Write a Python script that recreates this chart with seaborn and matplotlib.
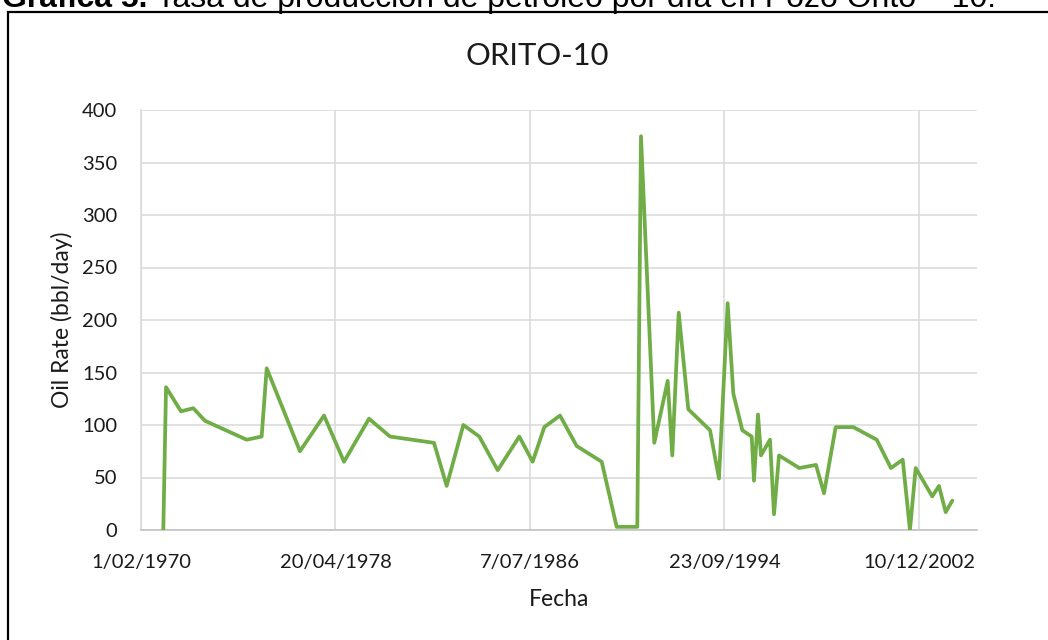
import matplotlib
matplotlib.use("Agg")
import matplotlib.pyplot as plt
from matplotlib.patches import Rectangle
import pandas as pd
import seaborn as sns

# Production history of well ORITO-10
fecha = [
    "1971-01-11", "1971-02-22", "1971-10-11", "1972-04-18", "1972-10-15",
    "1974-07-20", "1975-03-08", "1975-05-25", "1976-10-19", "1977-10-25",
    "1978-08-29", "1979-09-19", "1980-08-08", "1982-06-17", "1982-12-30",
    "1983-09-13", "1984-05-16", "1985-02-24", "1986-01-23", "1986-08-17",
    "1987-02-13", "1987-10-13", "1988-06-26", "1989-07-17", "1990-03-05",
    "1991-01-17", "1991-03-15", "1991-10-06", "1992-04-30", "1992-07-10",
    "1992-10-17", "1993-03-14", "1994-02-12", "1994-06-30", "1994-11-11",
    "1995-02-06", "1995-06-25", "1995-11-17", "1995-12-22", "1996-02-22",
    "1996-04-08", "1996-08-25", "1996-10-26", "1997-01-11", "1997-11-20",
    "1998-08-04", "1998-12-06", "1999-06-04", "2000-03-02", "2001-02-26",
    "2001-10-04", "2002-04-03", "2002-07-24", "2002-10-20", "2003-07-03",
    "2003-10-14", "2004-01-26", "2004-05-07",
]
oil_rate = [
    0, 136, 113, 116, 104,
    86, 89, 154, 75, 109,
    65, 106, 89, 83, 42,
    100, 89, 57, 89, 65,
    98, 109, 80, 65, 3,
    3, 375, 83, 142, 71,
    207, 115, 95, 49, 216,
    130, 95, 89, 47, 110,
    71, 86, 15, 71, 59,
    62, 35, 98, 98, 86,
    59, 67, 0, 59, 32,
    42, 17, 28,
]

y_ticks = [0, 50, 100, 150, 200, 250, 300, 350, 400]
x_tick_dates = ["1970-02-01", "1978-04-20", "1986-07-07", "1994-09-23", "2002-12-10"]
x_tick_labels = ["1/02/1970", "20/04/1978", "7/07/1986", "23/09/1994", "10/12/2002"]
x_range = ["1970-02-01", "2005-05-23"]

caption_bold = "Gráfica 5."
caption_rest = " Tasa de producción de petróleo por día en Pozo Orito – 10."

sns.set_theme(style="white")
plt.rcParams["font.family"] = ["Lato", "DejaVu Sans"]

W, H = 1048, 640
fig = plt.figure(figsize=(W / 100, H / 100), dpi=100)
fig.patch.set_facecolor("white")

ax = fig.add_axes([141 / W, 110 / H, 836 / W, 420 / H])

df = pd.DataFrame({"Fecha": pd.to_datetime(fecha), "Oil Rate (bbl/day)": oil_rate})
sns.lineplot(data=df, x="Fecha", y="Oil Rate (bbl/day)", ax=ax,
             color="#70AD47", linewidth=2.7, zorder=3)

ax.set_xlim(pd.Timestamp(x_range[0]), pd.Timestamp(x_range[1]))
ax.set_ylim(y_ticks[0], y_ticks[-1])
ax.set_yticks(y_ticks)
ax.set_yticklabels([str(v) for v in y_ticks])
ax.set_xticks(pd.to_datetime(x_tick_dates))
ax.set_xticklabels(x_tick_labels)

ax.grid(True, color="#d9d9d9", linewidth=1.1)
ax.set_axisbelow(True)
for side in ("top", "right"):
    ax.spines[side].set_visible(False)
ax.spines["left"].set_color("#d9d9d9")
ax.spines["left"].set_linewidth(1.1)
ax.spines["bottom"].set_color("#bfbfbf")
ax.spines["bottom"].set_linewidth(1.1)

text_color = "#1a1a1a"
ax.tick_params(axis="both", length=0, labelsize=14.5, labelcolor=text_color)
ax.tick_params(axis="y", pad=17)
ax.tick_params(axis="x", pad=17)

ax.set_xlabel("Fecha", fontsize=16.5, color=text_color)
ax.xaxis.set_label_coords(0.5, (530 - 600) / 420)
ax.xaxis.label.set_va("center")
ax.set_ylabel("Oil Rate (bbl/day)", fontsize=16.5, color=text_color)
ax.yaxis.set_label_coords((62 - 141) / 836, 0.5)
ax.yaxis.label.set_va("center")

ax.set_title("ORITO-10", fontsize=22.2, color=text_color,
             x=(537 - 141) / 836, y=(530 - 64) / 420, va="center")

# chart frame (its right and bottom edges run past the canvas)
fig.add_artist(Rectangle((8 / W, -0.2), 1.2, 1 - 12 / H + 0.2,
                         transform=fig.transFigure, fill=False,
                         edgecolor="black", linewidth=1.6, clip_on=False))

# caption line above the frame
cap_y = 1 - 7 / H
t1 = fig.text(2 / W, cap_y, caption_bold, fontsize=23, fontweight="bold",
              family=["Liberation Sans", "DejaVu Sans"], va="baseline", color="black")
fig.canvas.draw()
bb = t1.get_window_extent()
fig.text(bb.x1 / W, cap_y, caption_rest, fontsize=23,
         family=["Liberation Sans", "DejaVu Sans"], va="baseline", color="black")

fig.savefig("out.png", dpi=100, facecolor="white")
